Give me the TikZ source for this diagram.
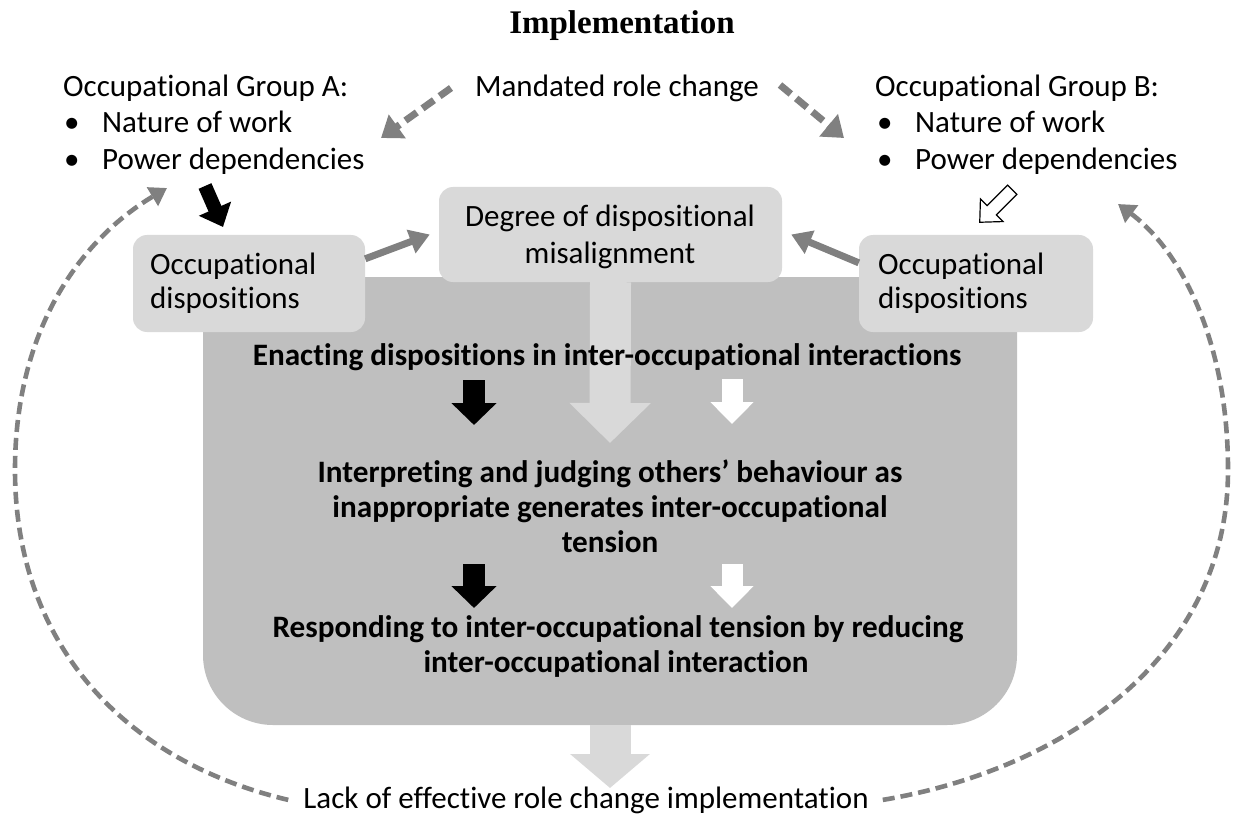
\documentclass[tikz,border=0pt]{standalone}
\usepackage{fontspec}
\setmainfont{Carlito}[Ligatures=NoCommon]
\newfontfamily\tnr{Liberation Serif}
\usetikzlibrary{arrows.meta,calc}
\definecolor{boxlight}{HTML}{D9D9D9}
\definecolor{boxdark}{HTML}{BFBFBF}
\definecolor{arrgray}{HTML}{808080}
\begin{document}
\begin{tikzpicture}[x=1pt,y=-1pt,
  txt/.style={inner sep=0pt, font=\fontsize{31}{34}\selectfont},
  btxt/.style={inner sep=0pt, font=\fontsize{31.2}{35}\selectfont\bfseries},
  lbox/.style={fill=boxlight, rounded corners=14pt, inner sep=0pt},
  grayarr/.style={draw=arrgray, line width=7pt, -{Triangle[width=24pt,length=20pt]}},
  dasharr/.style={draw=arrgray, line width=7pt, dash pattern=on 14pt off 7pt, -{Triangle[width=28pt,length=20pt]}},
  loopdash/.style={draw=arrgray, line width=4.6pt, dash pattern=on 12pt off 6pt, -{Triangle[width=21pt,length=17pt]}},
  bigarr/.style={draw=boxlight, line width=41pt, -{Triangle[width=79pt,length=40pt]}},
  blackarr/.style={draw=black, line width=22pt, -{Triangle[width=44pt,length=22pt]}},
  whitearr/.style={draw=white, line width=21pt, -{Triangle[width=42pt,length=22pt]}},
]
\useasboundingbox (0,0) rectangle (1236,818);

% main dark box
\fill[boxdark] (203,277) -- (203,655) arc[start angle=180, end angle=90, radius=70]
  -- (947,725) arc[start angle=90, end angle=0, radius=70] -- (1017,277) -- cycle;
\coordinate (mainbot) at (610,725);

% light boxes
\node[lbox, minimum width=232pt, minimum height=97pt] (occL) at (249,283.5) {};
\node[lbox, minimum width=234pt, minimum height=97pt] (occR) at (976,283.5) {};
\node[lbox, minimum width=343pt, minimum height=95pt] (deg) at (610.5,234.5) {};

% big light arrows
\coordinate (bigtip) at (610,443);
\draw[bigarr] (deg.south) -- (bigtip);
\coordinate (lowtip) at (610,788);
\draw[draw=boxlight, line width=41pt, -{Triangle[width=78pt,length=34pt]}] (mainbot) -- (lowtip);

% texts
\node[inner sep=0pt, anchor=base, font=\tnr\fontsize{33}{36}\selectfont\bfseries] (title) at (622,34) {Implementation};

\node[txt, anchor=base west] (grpA) at (63,97) {Occupational Group A:};
\node[txt, anchor=base west] (bulA1) at (64,133) {•};
\node[txt, anchor=base west] (natA) at (102,133) {Nature of work};
\node[txt, anchor=base west] (bulA2) at (64,170) {•};
\node[txt, anchor=base west] (powA) at (102,170) {Power dependencies};

\node[txt, anchor=base] (mand) at (617,97) {Mandated role change};

\node[txt, anchor=base west] (grpB) at (875,97) {Occupational Group B:};
\node[txt, anchor=base west] (bulB1) at (877,133) {•};
\node[txt, anchor=base west] (natB) at (915,133) {Nature of work};
\node[txt, anchor=base west] (bulB2) at (877,170) {•};
\node[txt, anchor=base west] (powB) at (915,170) {Power dependencies};

\node[txt, anchor=base] (degt1) at (610,227) {Degree of dispositional};
\node[txt, anchor=base] (degt2) at (610,263) {misalignment};

\node[txt, anchor=base west] (occLt1) at (150,274) {Occupational};
\node[txt, anchor=base west] (occLt2) at (150,308) {dispositions};
\node[txt, anchor=base west] (occRt1) at (878,274) {Occupational};
\node[txt, anchor=base west] (occRt2) at (878,308) {dispositions};

\node[btxt, anchor=base] (enact) at (607,365) {Enacting dispositions in inter-occupational interactions};
\node[btxt, anchor=base] (interp1) at (610,482) {Interpreting and judging others’ behaviour as};
\node[btxt, anchor=base] (interp2) at (610,517) {inappropriate generates inter-occupational};
\node[btxt, anchor=base] (interp3) at (610,552) {tension};
\node[btxt, anchor=base] (resp1) at (618,637) {Responding to inter-occupational tension by reducing};
\node[btxt, anchor=base] (resp2) at (616,672) {inter-occupational interaction};

\node[txt, anchor=base] (lack) at (586,808) {Lack of effective role change implementation};

% black / white arrows inside
\coordinate (b1s) at (474,380); \coordinate (b1e) at (474,425);
\coordinate (w1s) at (732,379); \coordinate (w1e) at (732,424);
\coordinate (b2s) at (474,564); \coordinate (b2e) at (474,608);
\coordinate (w2s) at (732,564); \coordinate (w2e) at (732,608);
\draw[blackarr] (b1s) -- (b1e);
\draw[whitearr] (w1s) -- (w1e);
\draw[blackarr] (b2s) -- (b2e);
\draw[whitearr] (w2s) -- (w2e);

% gray arrows to degree box
\draw[grayarr] (occL.12) -- ([xshift=-9pt]deg.west);
\draw[grayarr] (occR.170) -- ([xshift=9pt]deg.east);

% dashed arrows from mandated role change
\coordinate (mandLs) at (451,88); \coordinate (mandLe) at (381,138);
\coordinate (mandRs) at (780,85); \coordinate (mandRe) at (844,138);
\draw[dasharr] (mandLs) -- (mandLe);
\draw[dasharr] (mandRs) -- (mandRe);

% black arrow group A -> dispositions
\coordinate (bkAs) at (205,186); \coordinate (bkAe) at (223,227);
\draw[draw=black, line width=14pt, -{Triangle[width=34pt,length=20pt]}] (bkAs) -- (bkAe);

% hollow arrow group B -> dispositions
\coordinate (hollowc) at (996,206);
\begin{scope}[shift={(hollowc)}, rotate=225]
  \draw[fill=white, line width=1.2pt, line join=miter]
    (-23,-6.5) -- (6,-6.5) -- (6,-16) -- (23,0) -- (6,16) -- (6,6.5) -- (-23,6.5) -- cycle;
\end{scope}

% feedback loops
\coordinate (tipA) at (167,188);
\coordinate (tipB) at (1118,204);
\draw[loopdash] ([xshift=-15pt]lack.west) .. controls (120,760) and (15,640) .. (15,470)
  .. controls (15,330) and (80,240) .. (tipA);
\draw[loopdash] ([xshift=14pt]lack.east) .. controls (1060,770) and (1228,660) .. (1228,470)
  .. controls (1228,340) and (1180,250) .. (tipB);
\end{tikzpicture}
\end{document}
